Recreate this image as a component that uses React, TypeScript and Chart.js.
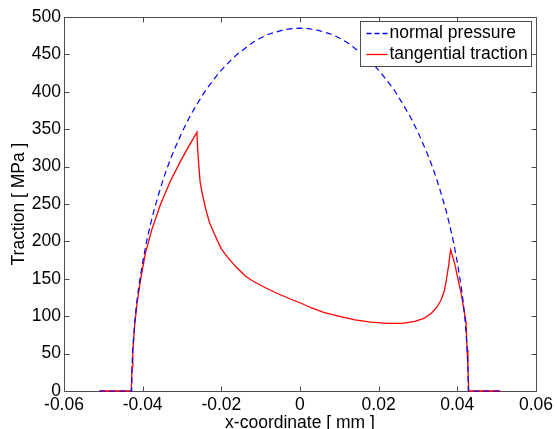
import React, { useEffect, useRef } from "react";
import { Chart, registerables } from "chart.js";

Chart.register(...registerables);

// ---- data ----
const pressureX = [
  -0.051, -0.0428, -0.0427, -0.0425, -0.042, -0.0415, -0.041, -0.04, -0.039, -0.038, -0.037, -0.036,
  -0.035, -0.034, -0.033, -0.032, -0.031, -0.03, -0.028, -0.026, -0.024, -0.022, -0.02, -0.018,
  -0.016, -0.014, -0.012, -0.01, -0.008, -0.006, -0.004, -0.002, 0, 0.002, 0.004, 0.006, 0.008,
  0.01, 0.012, 0.014, 0.016, 0.018, 0.02, 0.022, 0.024, 0.026, 0.028, 0.03, 0.031, 0.032, 0.033,
  0.034, 0.035, 0.036, 0.037, 0.038, 0.039, 0.04, 0.041, 0.0415, 0.042, 0.0425, 0.0427, 0.0428, 0.051,
];
const pressureY = [
  0, 0, 33, 57, 93, 119, 139, 172, 200, 223, 244, 262,
  279, 295, 309, 322, 334, 346, 367, 385, 402, 416, 429, 440,
  450, 458, 466, 472, 477, 480, 483, 484.5, 485, 484.5, 483, 480, 477,
  472, 466, 458, 450, 440, 429, 416, 402, 385, 367, 346, 334, 322, 309,
  295, 279, 262, 244, 223, 200, 172, 139, 119, 93, 57, 33, 0, 0,
];

const tractionX = [
  -0.051, -0.0429, -0.0427, -0.0425, -0.042, -0.0414, -0.0405, -0.0393, -0.0376, -0.0355, -0.033,
  -0.0304, -0.0283, -0.0262, -0.026, -0.0257, -0.0254, -0.025, -0.0245, -0.024, -0.023, -0.0215,
  -0.02, -0.0186, -0.0163, -0.014, -0.012, -0.0088, -0.006, -0.002, 0, 0.003, 0.006, 0.009, 0.014,
  0.018, 0.0224, 0.026, 0.0292, 0.0315, 0.0334, 0.0348, 0.0359, 0.0367, 0.0372, 0.0378, 0.0383,
  0.0388, 0.0393, 0.04, 0.041, 0.0417, 0.0422, 0.0425, 0.0427, 0.0429, 0.051,
];
const tractionY = [
  0, 0, 33, 54, 90, 118, 150, 184, 217, 249, 280,
  307, 327, 346, 322, 300, 280, 268, 256, 244, 225, 207,
  190, 180, 166, 154, 147, 138, 131, 122, 118, 111, 105, 101, 95,
  92, 90.5, 90.5, 93, 97, 104, 112, 122, 134, 148, 168, 189,
  180, 171, 154, 130, 108, 92, 55, 32, 0, 0,
];

const seriesLabels = ["normal pressure", "tangential traction"];
const xTicks = [-0.06, -0.04, -0.02, 0, 0.02, 0.04, 0.06];
const yTicks = [0, 50, 100, 150, 200, 250, 300, 350, 400, 450, 500];

const FONT = "'Liberation Sans', Arial, Helvetica, sans-serif";
const FSIZE = 17.5;
const AXIS = "#4d4d4d";

const framePlugin = {
  id: "frame",
  beforeDatasetsDraw(chart: any) {
    const { ctx, chartArea: a, scales } = chart;
    const L = Math.round(a.left) + 0.5;
    const R = Math.round(a.right) + 0.5;
    const T = Math.round(a.top) + 0.5;
    const B = Math.round(a.bottom) + 0.5;
    ctx.save();
    ctx.strokeStyle = AXIS;
    ctx.lineWidth = 1;
    ctx.beginPath();
    ctx.rect(L, T, R - L, B - T);
    const tl = 5;
    scales.x.ticks.forEach((t: any) => {
      const px = Math.round(scales.x.getPixelForValue(t.value)) + 0.5;
      ctx.moveTo(px, B);
      ctx.lineTo(px, B - tl);
      ctx.moveTo(px, T);
      ctx.lineTo(px, T + tl);
    });
    scales.y.ticks.forEach((t: any) => {
      const py = Math.round(scales.y.getPixelForValue(t.value)) + 0.5;
      ctx.moveTo(L, py);
      ctx.lineTo(L + tl, py);
      ctx.moveTo(R, py);
      ctx.lineTo(R - tl, py);
    });
    ctx.stroke();
    ctx.restore();
  },
};

const legendPlugin = {
  id: "boxLegend",
  afterDraw(chart: any) {
    const { ctx, chartArea: a } = chart;
    const ds = chart.data.datasets;
    ctx.save();
    ctx.font = `${FSIZE}px ${FONT}`;
    const maxW = Math.max(...ds.map((d: any) => ctx.measureText(d.label).width));
    const sample = 21;
    const padL = 6;
    const gap = 2;
    const padR = 4;
    const rowH = 21;
    const w = padL + sample + gap + maxW + padR;
    const h = rowH * ds.length + 3;
    const right = Math.round(a.right) - 4.5;
    const top = Math.round(a.top) + 4.5;
    const left = Math.round(right - w) + 0.5;
    ctx.fillStyle = "#fff";
    ctx.fillRect(left, top, right - left, h);
    ctx.strokeStyle = AXIS;
    ctx.lineWidth = 1;
    ctx.strokeRect(left, top, right - left, h);
    ds.forEach((d: any, i: number) => {
      const cy = top + 12 + i * rowH;
      ctx.beginPath();
      ctx.strokeStyle = d.borderColor;
      ctx.lineWidth = 1.3;
      ctx.setLineDash(d.borderDash ? [5, 3] : []);
      ctx.moveTo(left + padL, cy);
      ctx.lineTo(left + padL + sample, cy);
      ctx.stroke();
      ctx.setLineDash([]);
      ctx.fillStyle = "#000";
      ctx.textBaseline = "middle";
      ctx.textAlign = "left";
      ctx.fillText(d.label, left + padL + sample + gap, cy);
    });
    ctx.restore();
  },
};

export default function App() {
  const ref = useRef<HTMLCanvasElement | null>(null);
  useEffect(() => {
    if (!ref.current) return;
    const chart = new Chart(ref.current, {
      type: "scatter",
      data: {
        datasets: [
          {
            label: seriesLabels[0],
            data: pressureX.map((x, i) => ({ x, y: pressureY[i] })),
            showLine: true,
            borderColor: "#0000ff",
            borderWidth: 1.2,
            borderDash: [6, 4],
            pointRadius: 0,
            fill: false,
            clip: false as any,
          },
          {
            label: seriesLabels[1],
            data: tractionX.map((x, i) => ({ x, y: tractionY[i] })),
            showLine: true,
            borderColor: "#ff0000",
            borderWidth: 1.3,
            pointRadius: 0,
            fill: false,
            clip: false as any,
          },
        ],
      },
      options: {
        animation: false,
        responsive: false,
        layout: { padding: { top: 17, right: 19, left: 0, bottom: 0 } },
        plugins: { legend: { display: false }, tooltip: { enabled: false } },
        scales: {
          x: {
            type: "linear",
            min: xTicks[0],
            max: xTicks[xTicks.length - 1],
            afterBuildTicks: (s: any) => {
              s.ticks = xTicks.map((v) => ({ value: v }));
            },
            afterFit: (s: any) => {
              s.height = 49;
            },
            grid: { display: false, drawTicks: false },
            border: { display: false },
            ticks: {
              color: "#000",
              font: { family: FONT, size: FSIZE },
              padding: 4,
              maxRotation: 0,
              callback: (v: any) => String(Math.round(Number(v) * 100) / 100),
            },
            title: {
              display: true,
              text: "x-coordinate [ mm ]",
              color: "#000",
              font: { family: FONT, size: FSIZE },
              padding: { top: 0, bottom: 6 },
            },
          },
          y: {
            type: "linear",
            min: yTicks[0],
            max: yTicks[yTicks.length - 1],
            afterBuildTicks: (s: any) => {
              s.ticks = yTicks.map((v) => ({ value: v }));
            },
            afterFit: (s: any) => {
              s.width = 64;
            },
            grid: { display: false, drawTicks: false },
            border: { display: false },
            ticks: {
              color: "#000",
              font: { family: FONT, size: FSIZE },
              padding: 3,
            },
            title: {
              display: true,
              text: "Traction [ MPa ]",
              color: "#000",
              font: { family: FONT, size: FSIZE },
              padding: { top: 9, bottom: 0 },
            },
          },
        },
      } as any,
      plugins: [framePlugin, legendPlugin],
    });
    return () => chart.destroy();
  }, []);
  return (
    <div style={{ position: "absolute", left: 0, top: 0, width: 557, height: 440, overflow: "hidden", background: "#fff" }}>
      <canvas ref={ref} width={557} height={440} style={{ display: "block" }} />
    </div>
  );
}
